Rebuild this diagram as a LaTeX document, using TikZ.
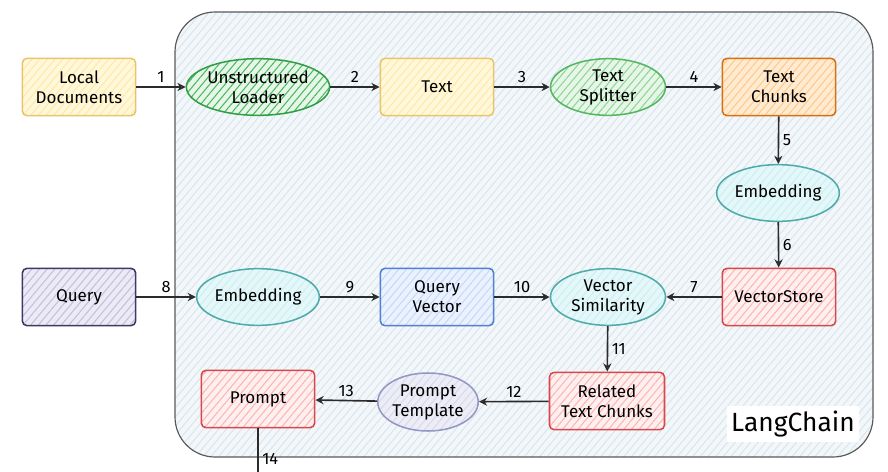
\documentclass[tikz,border=0pt]{standalone}
\usepackage{fontspec}
\setmainfont{Fira Sans}
\usetikzlibrary{shapes.geometric,arrows.meta,patterns.meta}
\definecolor{ylline}{HTML}{E9C46A}
\definecolor{ylfill}{HTML}{FFF8DA}
\definecolor{ylhatch}{HTML}{FFE9A8}
\definecolor{grline}{HTML}{2F9E44}
\definecolor{grfill}{HTML}{E6F6E8}
\definecolor{grhatch}{HTML}{4CB860}
\definecolor{lgline}{HTML}{55B560}
\definecolor{lghatch}{HTML}{8FD694}
\definecolor{orline}{HTML}{D9700F}
\definecolor{orfill}{HTML}{FFEBD2}
\definecolor{orhatch}{HTML}{FFC98A}
\definecolor{tlline}{HTML}{4FAAAA}
\definecolor{tlfill}{HTML}{E4F7F9}
\definecolor{tlhatch}{HTML}{CDEFF3}
\definecolor{rdline}{HTML}{D9474A}
\definecolor{rdfill}{HTML}{FFF0F0}
\definecolor{rdhatch}{HTML}{FFB3B3}
\definecolor{puline}{HTML}{3D3866}
\definecolor{pufill}{HTML}{ECEAF4}
\definecolor{puhatch}{HTML}{C4BFDD}
\definecolor{blline}{HTML}{4F7FD6}
\definecolor{blfill}{HTML}{EAF1FF}
\definecolor{blhatch}{HTML}{C9D8F6}
\definecolor{gyline}{HTML}{9397C4}
\definecolor{gyfill}{HTML}{ECEDF6}
\definecolor{gyhatch}{HTML}{D8DAEC}
\definecolor{bgfill}{HTML}{F3F7FA}
\definecolor{bghatch}{HTML}{D9E6EE}
\definecolor{arrowgray}{HTML}{2B2B2B}
\tikzset{
  hatched/.style 2 args={preaction={fill=#1},
    preaction={pattern={Lines[angle=50,distance=5pt,line width=.9pt]},pattern color=#2}},
  box/.style={rectangle, rounded corners=4pt, line width=1.3pt, align=center,
    minimum width=3.4cm, minimum height=1.72cm, inner sep=1pt,
    font=\fontsize{14.5}{17}\selectfont},
  oval/.style={ellipse, line width=1.3pt, align=center,
    minimum width=3.45cm, minimum height=1.7cm, inner sep=0pt,
    font=\fontsize{14.5}{17}\selectfont},
  flow/.style={draw=arrowgray, line width=1.4pt, -{Stealth[open,length=7pt,width=7pt]}},
  num/.style={font=\fontsize{14}{16}\selectfont, inner sep=3pt}
}
\begin{document}
\begin{tikzpicture}[x=0.03cm,y=-0.03cm]
    \useasboundingbox (0,0) rectangle (888,471);
    \draw[draw=black!65, line width=1pt, rounded corners=1.2cm, hatched={bgfill}{bghatch}]
        (175,12) rectangle (873,457);
    \node[box, draw=ylline, hatched={ylfill}{ylhatch}] (docs) at (79,87) {Local\\Documents};
    \node[oval, draw=grline, hatched={grfill}{grhatch}] (loader) at (258,87) {Unstructured\\Loader};
    \node[box, draw=ylline, hatched={ylfill}{ylhatch}] (text) at (437,87) {Text};
    \node[oval, draw=lgline, hatched={grfill}{lghatch}] (splitter) at (608,87) {Text\\Splitter};
    \node[box, draw=orline, hatched={orfill}{orhatch}] (chunks) at (779,87) {Text\\Chunks};
    \node[oval, draw=tlline, hatched={tlfill}{tlhatch}] (embtop) at (778,193) {Embedding};
    \node[box, draw=rdline, hatched={rdfill}{rdhatch}] (store) at (779,297) {VectorStore};
    \node[box, draw=puline, hatched={pufill}{puhatch}] (query) at (79,297) {Query};
    \node[oval, draw=tlline, hatched={tlfill}{tlhatch}] (embq) at (258,297) {Embedding};
    \node[box, draw=blline, hatched={blfill}{blhatch}] (qvec) at (437,297) {Query\\Vector};
    \node[oval, draw=tlline, hatched={tlfill}{tlhatch}] (simil) at (608,297) {Vector\\Similarity};
    \node[box, draw=rdline, hatched={rdfill}{rdhatch}, minimum width=3.45cm] (related) at (607,401) {Related\\Text Chunks};
    \node[oval, draw=gyline, hatched={gyfill}{gyhatch}, minimum width=2.82cm, minimum height=1.74cm] (tmpl) at (428,402) {Prompt\\Template};
    \node[box, draw=rdline, hatched={rdfill}{rdhatch}] (prompt) at (258,399) {Prompt};
    \node[fill=white, inner sep=4pt, font=\fontsize{22.5}{26}\selectfont] (lang) at (793,424) {LangChain};
    \coordinate (out) at (258,500);
    \draw[flow] (docs) -- node[num, above] {1} (loader);
    \draw[flow] (loader) -- node[num, above] {2} (text);
    \draw[flow] (text) -- node[num, above] {3} (splitter);
    \draw[flow] (splitter) -- node[num, above] {4} (chunks);
    \draw[flow] (chunks) -- node[num, right] {5} (embtop);
    \draw[flow] (embtop) -- node[num, right] {6} (store);
    \draw[flow] (store) -- node[num, above] {7} (simil);
    \draw[flow] (query) -- node[num, above] {8} (embq);
    \draw[flow] (embq) -- node[num, above] {9} (qvec);
    \draw[flow] (qvec) -- node[num, above] {10} (simil);
    \draw[flow] (simil) -- node[num, right] {11} (related);
    \draw[flow] (related) -- node[num, above] {12} (tmpl);
    \draw[flow] (tmpl) -- node[num, above] {13} (prompt);
    \draw[flow] (prompt) -- node[num, pos=0.43, right] {14} (out);
\end{tikzpicture}
\end{document}
